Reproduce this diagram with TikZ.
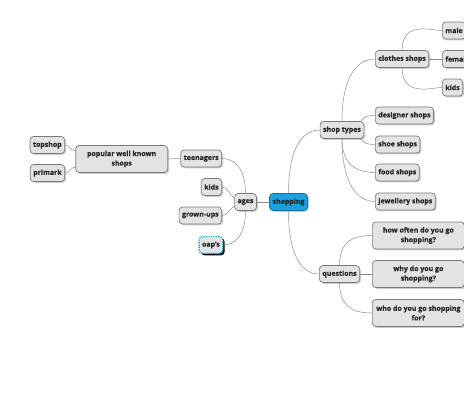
\documentclass[tikz,border=0pt]{standalone}
\usepackage{fontspec}
\setmainfont{Open Sans}[BoldFeatures={FakeBold=0.4}]
\usepackage{xcolor}
\usetikzlibrary{shadows}
\definecolor{linkc}{HTML}{8C8C8C}
\definecolor{boxfill}{HTML}{E3E3E3}
\definecolor{boxline}{HTML}{7A7A7A}
\definecolor{rootc}{HTML}{1BA1E2}
\definecolor{txtc}{HTML}{262626}
\tikzset{
  tbase/.style={draw=boxline,line width=0.7pt,rounded corners=3.5pt,fill=boxfill,text=txtc,
    font=\fontsize{7}{9.6}\selectfont\bfseries,inner xsep=3pt,inner ysep=2pt,minimum height=17pt},
  topic/.style={tbase,drop shadow={shadow xshift=1.4pt,shadow yshift=-1.4pt,opacity=0.4}},
  wide/.style={topic,align=flush center,text width=86pt,minimum height=27pt},
  root/.style={topic,fill=rootc,draw=rootc!70!black},
  marked/.style={tbase,draw=rootc,line width=1.4pt,dash pattern=on 1.2pt off 1.2pt,
    drop shadow={shadow xshift=1.8pt,shadow yshift=-1.8pt,fill=black,opacity=1}},
  link/.style={draw=linkc,line width=0.5pt},
  branch/.style={link,out looseness=1.7,in looseness=0.6}
}
\begin{document}
\begin{tikzpicture}[x=1pt,y=1pt]
\useasboundingbox (0,0) rectangle (464,-404);
% centre
\node[root] (shop) at (288.5,-202) {shopping};
% left side
\node[topic] (ages) at (245.5,-202) {ages};
\node[topic,anchor=east] (teen) at (222,-158.5) {teenagers};
\node[topic,anchor=east] (kidsa) at (222,-187) {kids};
\node[topic,anchor=east] (grown) at (222,-215.5) {grown-ups};
\node[marked,anchor=east] (oaps) at (223.5,-245) {oap's};
\node[wide,anchor=east] (popular) at (168,-159) {popular well known shops};
\node[topic,anchor=east] (topshop) at (65,-145) {topshop};
\node[topic,anchor=east] (primark) at (65,-173) {primark};
% right side
\node[topic] (types) at (342,-130) {shop types};
\node[topic,anchor=west] (clothes) at (375,-59) {clothes shops};
\node[topic,anchor=west] (male) at (442,-30.5) {male};
\node[topic,anchor=west] (female) at (442,-59) {female};
\node[topic,anchor=west] (kidsb) at (442,-87.5) {kids};
\node[topic,anchor=west] (designer) at (375,-115.5) {designer shops};
\node[topic,anchor=west] (shoe) at (375,-144.5) {shoe shops};
\node[topic,anchor=west] (food) at (375,-172.5) {food shops};
\node[topic,anchor=west] (jewel) at (375,-201.5) {jewellery shops};
\node[topic] (quest) at (339.5,-274) {questions};
\node[wide,anchor=west] (often) at (372,-235.5) {how often do you go shopping?};
\node[wide,anchor=west] (why) at (372,-274) {why do you go shopping?};
\node[wide,anchor=west] (whofor) at (372,-313) {who do you go shopping for?};
% connectors
\draw[link] (shop.west) -- (ages.east);
\draw[branch] (shop.north) to[out=90,in=180] (types.west);
\draw[branch] (shop.south) to[out=-90,in=180] (quest.west);
\draw[branch] (ages.north) to[out=90,in=0] (teen.east);
\draw[link] (kidsa.east) to[out=0,in=150] (ages.160);
\draw[link] (grown.east) to[out=0,in=210] (ages.200);
\draw[branch] (ages.south) to[out=-90,in=0] (oaps.east);
\draw[link] (teen.west) -- (popular.east);
\draw[link] (topshop.east) to[out=0,in=180] (popular.170);
\draw[link] (primark.east) to[out=0,in=180] (popular.190);
\draw[branch] (types.north) to[out=90,in=180] (clothes.west);
\draw[link] (types.25) to[out=60,in=180] (designer.west);
\draw[link] (types.-25) to[out=-60,in=180] (shoe.west);
\draw[branch] (types.south) to[out=-90,in=180] (food.west);
\draw[branch] (types.south) to[out=-90,in=180] (jewel.west);
\draw[branch] (clothes.north) to[out=90,in=180] (male.west);
\draw[link] (clothes.east) -- (female.west);
\draw[branch] (clothes.south) to[out=-90,in=180] (kidsb.west);
\draw[branch] (quest.north) to[out=90,in=180] (often.west);
\draw[link] (quest.east) -- (why.west);
\draw[branch] (quest.south) to[out=-90,in=180] (whofor.west);
\end{tikzpicture}
\end{document}
